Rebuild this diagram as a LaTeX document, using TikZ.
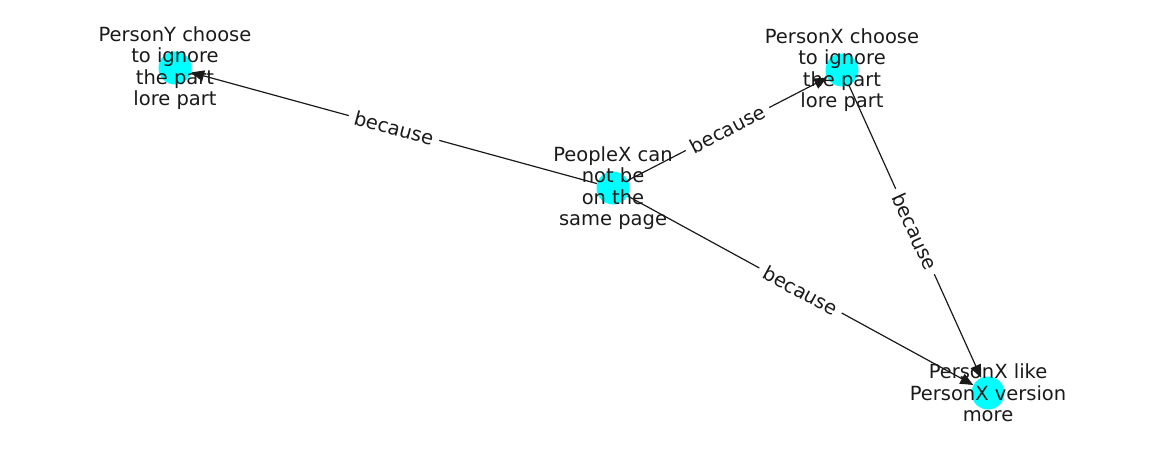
\documentclass[tikz,border=0pt]{standalone}
\usepackage{fontspec}
\setmainfont{DejaVu Sans}
\usetikzlibrary{arrows.meta}
\definecolor{aqua}{RGB}{0,255,255}
\definecolor{ink}{RGB}{26,26,26}
\begin{document}
\begin{tikzpicture}[x=1pt,y=1pt,
  dot/.style={circle,fill=aqua,draw=none,minimum size=33pt,inner sep=0pt},
  lbl/.style={align=center,font=\fontsize{19.5}{21.5}\selectfont,text=ink,inner sep=0pt},
  edge/.style={line width=1.2pt,draw=ink},
  arr/.style={edge,-{Triangle[length=13pt,width=11pt]}},
  elbl/.style={sloped,fill=white,rounded corners=3pt,inner sep=6pt,font=\fontsize{19.5}{21.5}\selectfont,text=ink}]
\useasboundingbox (0,0) rectangle (1162,462);
\node[dot] (py) at (175,394) {};
\node[dot] (pxc) at (842,392) {};
\node[dot] (pe) at (613,274) {};
\node[dot] (pxl) at (988,69) {};
\draw[arr] (pe) -- node[elbl] {because} (py);
\draw[arr] (pe) -- node[elbl] {because} (pxc);
\draw[arr] (pe) -- node[elbl] {because} (pxl);
\draw[arr] (pxc) -- node[elbl] {because} (pxl);
\node[lbl] (tpy) at (py) {PersonY choose\\to ignore\\the part\\lore part};
\node[lbl] (tpxc) at (pxc) {PersonX choose\\to ignore\\the part\\lore part};
\node[lbl] (tpe) at (pe) {PeopleX can\\not be\\on the\\same page};
\node[lbl] (tpxl) at (pxl) {PersonX like\\PersonX version\\more};
\end{tikzpicture}
\end{document}
